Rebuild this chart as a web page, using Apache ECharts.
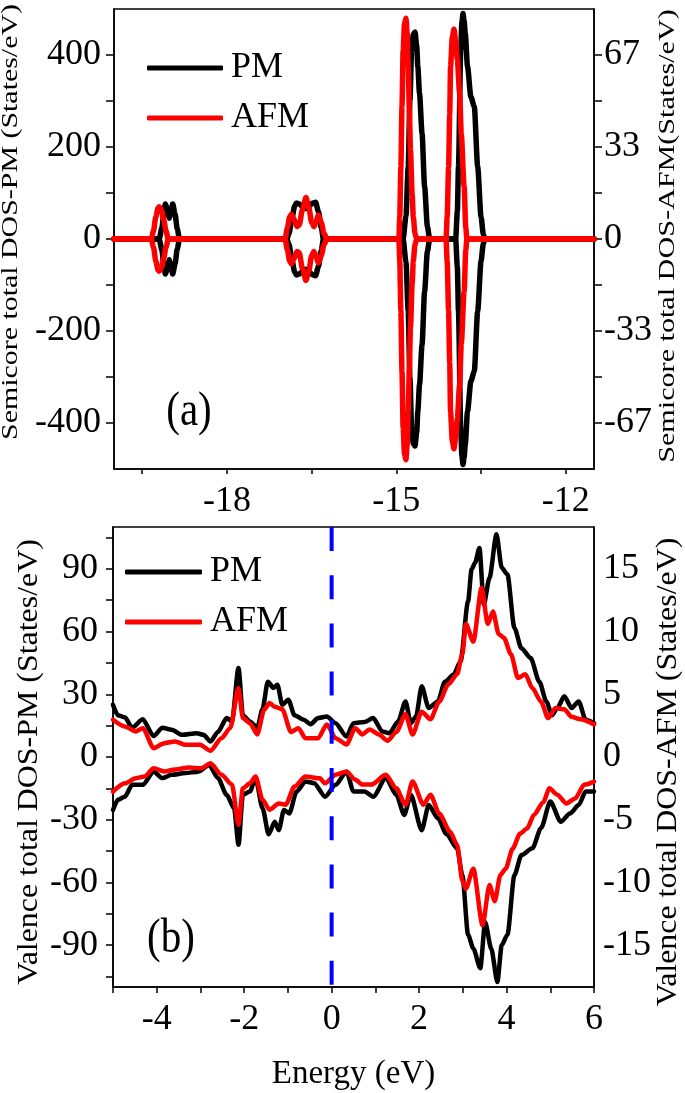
<!DOCTYPE html>
<html><head><meta charset="utf-8">
<script src="https://cdn.jsdelivr.net/npm/echarts@6/dist/echarts.min.js"></script>
<style>html,body{margin:0;padding:0;background:#fff}#c{width:685px;height:1093px}</style>
</head><body><div id="c"></div>
<script>
// ---------- Panel (a): semicore DOS ----------
const semiTickX  = [-19.5, -18, -16.5, -15, -13.5, -12];
const semiLabelX = [-18, -15, -12];
const semiTickPM  = [-400, -300, -200, -100, 0, 100, 200, 300, 400];
const semiLabelPM = [-400, -200, 0, 200, 400];
const semiTickAFM  = [-66.667, -50, -33.333, -16.667, 0, 16.667, 33.333, 50, 66.667];
const semiLabelAFM = [-66.667, -33.333, 0, 33.333, 66.667];

const semiPM_up = [[-20,0],[-19.20,0],[-19.15,25],[-19.12,55],[-19.09,76],[-19.05,62],[-19.02,45],[-18.99,60],[-18.96,76],[-18.92,55],[-18.88,22],[-18.84,0],
 [-16.94,0],[-16.90,12],[-16.85,45],[-16.80,72],[-16.77,78],[-16.72,76],[-16.66,70],[-16.60,66],[-16.54,72],[-16.48,78],[-16.43,80],[-16.38,60],[-16.33,25],[-16.29,0],
 [-14.88,0],[-14.83,50],[-14.79,157],[-14.76,300],[-14.73,411],[-14.70,445],[-14.67,450],[-14.64,420],[-14.62,375],[-14.59,317],[-14.545,230],[-14.50,114],[-14.45,27],[-14.41,0],
 [-13.95,0],[-13.92,60],[-13.90,157],[-13.86,411],[-13.84,470],[-13.82,490],[-13.80,475],[-13.78,447],[-13.74,375],[-13.68,309],[-13.62,288],[-13.56,157],[-13.50,48],[-13.46,10],[-13.43,0],[-11.5,0]];
const semiPM_dn = [[-20,0],[-19.20,0],[-19.15,-25],[-19.12,-55],[-19.09,-76],[-19.05,-62],[-19.02,-45],[-18.99,-60],[-18.96,-76],[-18.92,-55],[-18.88,-22],[-18.84,0],
 [-16.94,0],[-16.90,-12],[-16.85,-45],[-16.80,-72],[-16.77,-78],[-16.72,-76],[-16.66,-70],[-16.60,-66],[-16.54,-72],[-16.48,-78],[-16.43,-80],[-16.38,-60],[-16.33,-25],[-16.29,0],
 [-14.88,0],[-14.83,-50],[-14.79,-157],[-14.76,-300],[-14.73,-411],[-14.70,-445],[-14.67,-450],[-14.64,-420],[-14.62,-375],[-14.59,-317],[-14.545,-230],[-14.50,-114],[-14.45,-27],[-14.41,0],
 [-13.95,0],[-13.92,-60],[-13.90,-157],[-13.86,-411],[-13.84,-470],[-13.82,-490],[-13.80,-475],[-13.78,-447],[-13.74,-375],[-13.68,-309],[-13.62,-288],[-13.56,-157],[-13.50,-48],[-13.46,-10],[-13.43,0],[-11.5,0]];
const semiAFM_up = [[-20,0],[-19.34,0],[-19.30,3],[-19.26,8],[-19.22,11.2],[-19.20,11.7],[-19.16,10.5],[-19.12,7],[-19.08,3],[-19.04,0],
 [-16.97,0],[-16.93,4],[-16.89,8],[-16.86,9],[-16.82,7.5],[-16.76,4.5],[-16.72,5],[-16.66,11],[-16.60,15],[-16.55,11.5],[-16.50,6],[-16.46,4.5],[-16.42,6.5],[-16.38,8.7],[-16.33,6],[-16.28,2],[-16.23,0],
 [-14.955,0],[-14.94,8],[-14.92,26],[-14.90,48],[-14.88,68.5],[-14.855,78],[-14.83,80],[-14.81,75],[-14.79,62.5],[-14.77,47],[-14.75,32],[-14.72,16],[-14.70,8],[-14.67,2],[-14.64,0],
 [-14.12,0],[-14.10,8],[-14.075,26],[-14.055,45],[-14.04,62.5],[-14.01,73],[-13.98,76],[-13.95,72],[-13.92,65],[-13.88,52.8],[-13.85,38],[-13.80,19],[-13.77,4],[-13.75,0],[-11.5,0]];
const semiAFM_dn = [[-20,0],[-19.34,0],[-19.30,-3],[-19.26,-8],[-19.22,-11.2],[-19.20,-11.7],[-19.16,-10.5],[-19.12,-7],[-19.08,-3],[-19.04,0],
 [-16.97,0],[-16.93,-4],[-16.89,-8],[-16.86,-9],[-16.82,-7.5],[-16.76,-4.5],[-16.72,-5],[-16.66,-11],[-16.60,-15],[-16.55,-11.5],[-16.50,-6],[-16.46,-4.5],[-16.42,-6.5],[-16.38,-8.7],[-16.33,-6],[-16.28,-2],[-16.23,0],
 [-14.955,0],[-14.94,-8],[-14.92,-26],[-14.90,-48],[-14.88,-68.5],[-14.855,-78],[-14.83,-80],[-14.81,-75],[-14.79,-62.5],[-14.77,-47],[-14.75,-32],[-14.72,-16],[-14.70,-8],[-14.67,-2],[-14.64,0],
 [-14.12,0],[-14.10,-8],[-14.075,-26],[-14.055,-45],[-14.04,-62.5],[-14.01,-73],[-13.98,-76],[-13.95,-72],[-13.92,-65],[-13.88,-52.8],[-13.85,-38],[-13.80,-19],[-13.77,-4],[-13.75,0],[-11.5,0]];

// ---------- Panel (b): valence DOS ----------
const valTickX  = [-5, -4, -3, -2, -1, 0, 1, 2, 3, 4, 5, 6];
const valLabelX = [-4, -2, 0, 2, 4, 6];
const valTickPM  = [-105, -90, -75, -60, -45, -30, -15, 0, 15, 30, 45, 60, 75, 90, 105];
const valLabelPM = [-90, -60, -30, 0, 30, 60, 90];
const valLabelAFM = [-15, -10, -5, 0, 5, 10, 15];
const fermiLine = [[0, 110], [0, -110]];

const valPM_up = [[-5.0,25],[-4.89,20],[-4.73,19],[-4.56,14],[-4.32,18],[-4.07,10],[-3.87,14],[-3.66,13],[-3.42,10.6],[-3.09,11.4],[-2.93,10.6],[-2.77,7.4],[-2.60,12],[-2.40,18.6],[-2.28,17],[-2.13,42.6],[-2.03,20],[-1.87,17],[-1.70,14],[-1.58,23],[-1.46,36],[-1.33,33],[-1.24,34.6],[-1.13,25],[-0.99,27.4],[-0.85,20],[-0.64,17.8],[-0.48,15.7],[-0.31,18.6],[-0.11,19.4],[0.09,16.2],[0.34,9.8],[0.50,16.2],[0.75,16.7],[0.95,18.6],[1.16,12.2],[1.32,11.4],[1.52,17],[1.69,26.6],[1.81,16.2],[1.93,19.4],[2.06,33.8],[2.22,23.4],[2.43,26.6],[2.59,36],[2.79,39.4],[2.95,45.8],[3.12,74.5],[3.20,89.7],[3.28,92.9],[3.38,100],[3.48,73],[3.61,85.7],[3.77,106.5],[3.89,90.5],[4.02,87.3],[4.18,61.7],[4.34,52],[4.55,47.4],[4.75,36],[4.91,26.6],[5.04,20],[5.16,23.4],[5.32,29],[5.49,23.4],[5.65,26.6],[5.81,17.8],[6.0,16.2]];
const valPM_dn = [[-5,-25.3],[-4.89,-20.5],[-4.73,-19],[-4.56,-13.3],[-4.32,-13.3],[-4.07,-7],[-3.87,-10.1],[-3.66,-8.5],[-3.34,-7.7],[-3.05,-7],[-2.80,-3.8],[-2.60,-10.1],[-2.40,-18.1],[-2.23,-24.5],[-2.13,-42],[-2.03,-18.1],[-1.87,-16.5],[-1.74,-10.1],[-1.58,-24.5],[-1.44,-37],[-1.30,-31],[-1.21,-35],[-1.09,-25.3],[-0.97,-27],[-0.80,-16.5],[-0.60,-11.7],[-0.40,-12.5],[-0.15,-19],[0.09,-13.3],[0.34,-7],[0.50,-16.5],[0.75,-16.5],[0.95,-19],[1.24,-10.1],[1.48,-18.1],[1.66,-27.7],[1.81,-18.1],[2.06,-35],[2.22,-23],[2.43,-29.3],[2.63,-37],[2.87,-43.7],[2.99,-56.5],[3.12,-85],[3.24,-91.6],[3.40,-101],[3.51,-79],[3.65,-91.6],[3.79,-107.6],[3.89,-90],[4.02,-85],[4.18,-56.5],[4.34,-46.9],[4.59,-43.7],[4.79,-34],[5.00,-21.3],[5.24,-31],[5.45,-27],[5.65,-23],[5.81,-16.5],[6.0,-16.5]];
const valAFM_up = [[-5,2.97],[-4.73,2.44],[-4.48,2.04],[-4.32,2.3],[-4.07,0.7],[-3.83,1.1],[-3.58,1.24],[-3.34,0.97],[-3.01,0.97],[-2.77,0.5],[-2.52,1.5],[-2.32,2.3],[-2.13,5.5],[-2.03,3.1],[-1.87,2.7],[-1.70,1.8],[-1.54,3.8],[-1.42,4.3],[-1.30,4.0],[-1.13,3.8],[-0.93,2.0],[-0.76,2.3],[-0.60,1.5],[-0.31,1.5],[-0.11,2.6],[0.09,1.5],[0.34,1.0],[0.54,2.3],[0.70,1.8],[0.87,2.2],[1.08,1.8],[1.28,1.3],[1.48,2.0],[1.69,3.4],[1.85,1.8],[2.06,3.6],[2.26,3.0],[2.46,4.4],[2.67,5.8],[2.87,6.6],[2.99,8.2],[3.07,10.6],[3.24,9.2],[3.43,13.5],[3.57,10.6],[3.69,11.6],[3.82,9.8],[3.94,9.5],[4.10,8.2],[4.26,6.3],[4.43,6.6],[4.59,5.5],[4.79,4.4],[4.95,3.1],[5.12,3.9],[5.32,3.8],[5.49,3.2],[5.69,3.0],[6.0,2.6]];
const valAFM_dn = [[-5,-2.76],[-4.73,-2.1],[-4.48,-1.7],[-4.28,-1.56],[-4.07,-0.9],[-3.83,-1.16],[-3.58,-1.0],[-3.26,-0.84],[-2.98,-0.9],[-2.77,-0.5],[-2.52,-1.42],[-2.28,-2.2],[-2.13,-5.4],[-2.03,-2.5],[-1.87,-2.1],[-1.74,-1.56],[-1.58,-3.4],[-1.42,-4.2],[-1.21,-3.7],[-1.05,-3.8],[-0.85,-2.36],[-0.60,-1.56],[-0.27,-1.7],[-0.15,-2.1],[0.09,-1.42],[0.34,-1.16],[0.54,-1.8],[0.70,-2.2],[0.91,-2.2],[1.24,-1.42],[1.48,-2.5],[1.69,-3.8],[1.85,-1.96],[2.10,-3.8],[2.26,-3.0],[2.46,-4.5],[2.71,-5.95],[2.87,-7.0],[2.99,-9.9],[3.07,-10.5],[3.24,-8.9],[3.45,-13.4],[3.61,-10.2],[3.73,-11.5],[3.86,-9.4],[3.98,-8.9],[4.14,-7.3],[4.31,-6.1],[4.47,-5.7],[4.63,-4.6],[4.84,-3.6],[4.98,-2.5],[5.16,-3.0],[5.37,-3.7],[5.57,-3.3],[5.78,-2.2],[6.0,-1.96]];

// ---------- chart ----------
const FONT = '"Liberation Serif", "Times New Roman", serif';
const BLACK = '#000000', RED = '#ff0000', BLUE = '#0000ff';
const LBL = 36;
const chart = echarts.init(document.getElementById('c'), null, {renderer: 'canvas'});

function baseAxis(extra) {
  return Object.assign({
    type: 'value',
    axisLine: {show: true, onZero: false, lineStyle: {color: BLACK, width: 1.5}},
    splitLine: {show: false},
    axisLabel: {fontFamily: FONT, fontSize: LBL, color: BLACK},
    axisTick: {show: true, inside: false, lineStyle: {color: BLACK, width: 1.5}}
  }, extra);
}
function lineSeries(name, xi, yi, data, color, width, z) {
  return {name, type: 'line', xAxisIndex: xi, yAxisIndex: yi, data, symbol: 'none', showSymbol: false,
    smooth: 0.25, smoothMonotone: 'x', z, silent: true,
    lineStyle: {color, width, join: 'round', cap: 'round'}, itemStyle: {color}};
}
const roundLbl = v => String(Math.round(v));

const option = {
  animation: false,
  backgroundColor: '#ffffff',
  grid: [
    {left: 114, right: 91, top: 9, height: 460, show: true, borderColor: BLACK, borderWidth: 1.5, backgroundColor: 'transparent'},
    {left: 113, right: 91, top: 527, height: 460, show: true, borderColor: BLACK, borderWidth: 1.5, backgroundColor: 'transparent'}
  ],
  xAxis: [
    baseAxis({gridIndex: 0, min: -20, max: -11.5, position: 'bottom',
      axisTick: {show: true, inside: false, length: 5, customValues: semiTickX, lineStyle: {color: BLACK, width: 1.5}},
      axisLabel: {customValues: semiLabelX, fontFamily: FONT, fontSize: LBL, color: BLACK, margin: 15}}),
    baseAxis({gridIndex: 1, min: -5, max: 6, position: 'bottom',
      axisTick: {show: true, inside: false, length: 6, customValues: valTickX, lineStyle: {color: BLACK, width: 1.5}},
      axisLabel: {customValues: valLabelX, fontFamily: FONT, fontSize: LBL, color: BLACK, margin: 15},
      name: 'Energy (eV)', nameLocation: 'middle', nameGap: 71,
      nameTextStyle: {fontFamily: FONT, fontSize: 33, color: BLACK}})
  ],
  yAxis: [
    baseAxis({gridIndex: 0, min: -500, max: 500, position: 'left',
      axisTick: {show: true, inside: false, length: 8, customValues: semiTickPM, lineStyle: {color: BLACK, width: 1.5}},
      axisLabel: {customValues: semiLabelPM, fontFamily: FONT, fontSize: LBL, color: BLACK, margin: 13}}),
    baseAxis({gridIndex: 0, min: -83.333, max: 83.333, position: 'right',
      axisTick: {show: true, inside: false, length: 8, customValues: semiTickAFM, lineStyle: {color: BLACK, width: 1.5}},
      axisLabel: {customValues: semiLabelAFM, formatter: roundLbl, fontFamily: FONT, fontSize: LBL, color: BLACK, margin: 10}}),
    baseAxis({gridIndex: 1, min: -110, max: 110, position: 'left',
      axisTick: {show: true, inside: false, length: 7, customValues: valTickPM, lineStyle: {color: BLACK, width: 1.5}},
      axisLabel: {customValues: valLabelPM, fontFamily: FONT, fontSize: LBL, color: BLACK, margin: 15}}),
    baseAxis({gridIndex: 1, min: -18.333, max: 18.333, position: 'right',
      axisTick: {show: false},
      axisLabel: {customValues: valLabelAFM, formatter: roundLbl, fontFamily: FONT, fontSize: LBL, color: BLACK, margin: 9}})
  ],
  legend: [
    {data: ['PM', 'AFM'], orient: 'vertical', left: 142, top: 45, icon: 'roundRect', itemWidth: 76, itemHeight: 5,
     itemGap: 14, selectedMode: false, textStyle: {fontFamily: FONT, fontSize: LBL, color: BLACK, padding: [0, 0, 0, 3]}},
    {data: ['PM', 'AFM'], orient: 'vertical', left: 120, top: 549, icon: 'roundRect', itemWidth: 77, itemHeight: 5,
     itemGap: 14, selectedMode: false, textStyle: {fontFamily: FONT, fontSize: LBL, color: BLACK, padding: [0, 0, 0, 3]}}
  ],
  graphic: [
    {type: 'text', x: 11, y: 222, rotation: Math.PI / 2, scaleX: 1.3, silent: true,
     style: {text: 'Semicore total DOS-PM (States/eV)', fontFamily: FONT, fontSize: 23, fill: BLACK, align: 'center', verticalAlign: 'middle'}},
    {type: 'text', x: 668, y: 236, rotation: Math.PI / 2, scaleX: 1.31, silent: true,
     style: {text: 'Semicore total DOS-AFM(States/eV)', fontFamily: FONT, fontSize: 23, fill: BLACK, align: 'center', verticalAlign: 'middle'}},
    {type: 'text', x: 29, y: 762, rotation: Math.PI / 2, scaleX: 1.1, silent: true,
     style: {text: 'Valence total DOS-PM (States/eV)', fontFamily: FONT, fontSize: 29, fill: BLACK, align: 'center', verticalAlign: 'middle'}},
    {type: 'text', x: 668, y: 772, rotation: Math.PI / 2, scaleX: 1.1, silent: true,
     style: {text: 'Valence total DOS-AFM (States/eV)', fontFamily: FONT, fontSize: 29, fill: BLACK, align: 'center', verticalAlign: 'middle'}},
    {type: 'text', x: 189, y: 412, scaleY: 1.2, silent: true,
     style: {text: '(a)', fontFamily: FONT, fontSize: 41, fill: BLACK, align: 'center', verticalAlign: 'middle'}},
    {type: 'text', x: 171, y: 939, scaleY: 1.2, silent: true,
     style: {text: '(b)', fontFamily: FONT, fontSize: 41, fill: BLACK, align: 'center', verticalAlign: 'middle'}}
  ],
  series: [
    lineSeries('PM', 0, 0, semiPM_up, BLACK, 5.5, 2),
    lineSeries('PM', 0, 0, semiPM_dn, BLACK, 5.5, 2),
    lineSeries('AFM', 0, 1, semiAFM_up, RED, 5.5, 3),
    lineSeries('AFM', 0, 1, semiAFM_dn, RED, 5.5, 3),
    lineSeries('PM', 1, 2, valPM_up, BLACK, 4.5, 2),
    lineSeries('PM', 1, 2, valPM_dn, BLACK, 4.5, 2),
    lineSeries('AFM', 1, 3, valAFM_up, RED, 4.5, 3),
    lineSeries('AFM', 1, 3, valAFM_dn, RED, 4.5, 3),
    {name: 'EF', type: 'line', xAxisIndex: 1, yAxisIndex: 2, data: fermiLine, symbol: 'none', z: 5, silent: true,
     lineStyle: {color: BLUE, width: 4, type: [24, 24.2]}}
  ]
};
chart.setOption(option);
</script></body></html>
